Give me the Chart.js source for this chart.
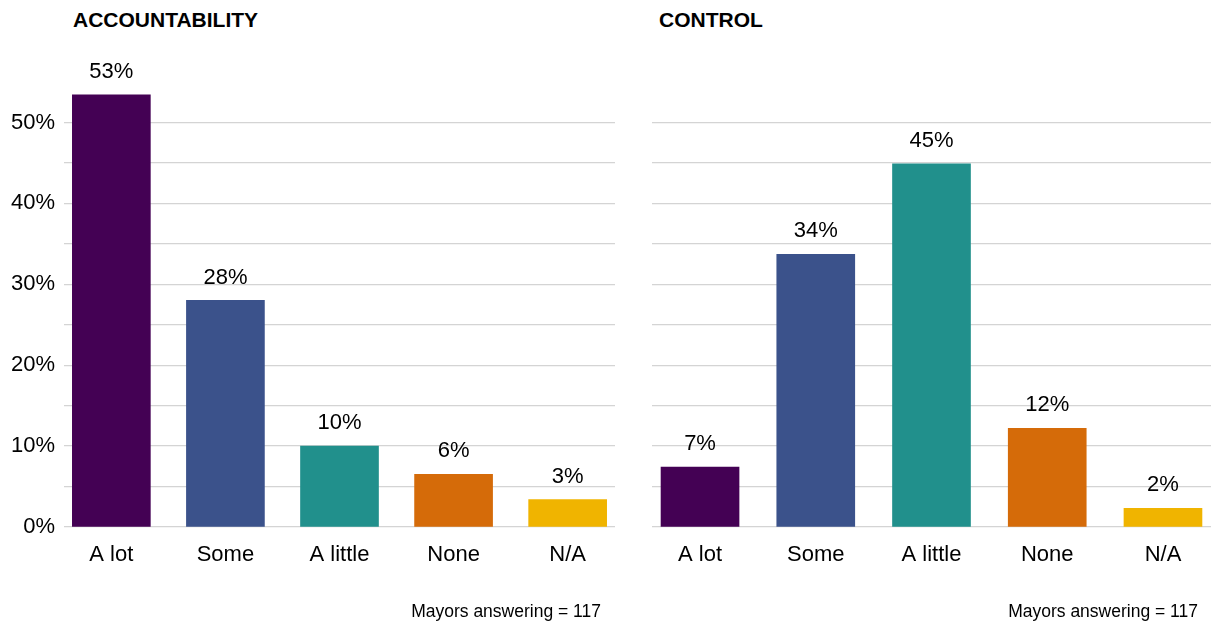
<!DOCTYPE html>
<html>
<head>
<meta charset="utf-8">
<script src="https://cdn.jsdelivr.net/npm/chart.js@4.4.0/dist/chart.umd.min.js"></script>
<style>
  html, body { margin: 0; padding: 0; background: #fff; }
  body { width: 1223px; height: 623px; position: relative; overflow: hidden;
         font-family: "Liberation Sans", Arial, sans-serif; color: #000; }
  .box { position: absolute; top: 0; height: 623px; }
  .title { position: absolute; top: 8px; font-weight: bold; font-size: 21px; line-height: 24px; }
  .note { position: absolute; top: 600px; font-size: 17.5px; line-height: 22px; text-align: right; }
</style>
</head>
<body>
<div class="title" style="left:73px;">ACCOUNTABILITY</div>
<div class="title" style="left:659px;">CONTROL</div>
<div class="box" style="left:0; width:625px;"><canvas id="c1"></canvas></div>
<div class="box" style="left:625px; width:598px;"><canvas id="c2"></canvas></div>
<div class="note" style="left:300px; width:301px;">Mayors answering = 117</div>
<div class="note" style="left:897px; width:301px;">Mayors answering = 117</div>
<script>
const categories = ["A lot", "Some", "A little", "None", "N/A"];
const barColors = ["#440154", "#3B528B", "#21908C", "#D56B09", "#F0B400"];
const accountabilityValues = [53.4, 28.0, 10.0, 6.5, 3.4];
const accountabilityLabels = ["53%", "28%", "10%", "6%", "3%"];
const controlValues = [7.4, 33.7, 44.9, 12.2, 2.3];
const controlLabels = ["7%", "34%", "45%", "12%", "2%"];
const yTickValues = [0, 10, 20, 30, 40, 50];
const yMax = 55;

const FONT = "'Liberation Sans', Arial, sans-serif";

const labelPlugin = {
  id: 'barLabels',
  afterDatasetsDraw(chart, args, opts) {
    const ctx = chart.ctx;
    const meta = chart.getDatasetMeta(0);
    ctx.save();
    ctx.font = "22px " + FONT;
    ctx.fillStyle = "#000";
    ctx.textAlign = "center";
    ctx.textBaseline = "middle";
    meta.data.forEach((el, i) => {
      ctx.fillText(opts.labels[i], el.x, el.y - 23);
    });
    ctx.restore();
  }
};

function makeChart(id, values, labels, showY, yWidth, padRight) {
  return new Chart(document.getElementById(id), {
    type: 'bar',
    data: {
      datasets: [{
        data: values.map((v, i) => ({ x: i, y: v })),
        backgroundColor: barColors,
        borderWidth: 0,
        barThickness: 78,
        clip: false
      }]
    },
    options: {
      responsive: true,
      maintainAspectRatio: false,
      animation: false,
      layout: { padding: { top: 82, left: 0, right: padRight, bottom: 0 } },
      plugins: {
        legend: { display: false },
        tooltip: { enabled: false },
        barLabels: { labels: labels }
      },
      scales: {
        x: {
          type: 'linear',
          offset: false,
          min: -0.415,
          max: 4.415,
          afterBuildTicks: (s) => { s.ticks = categories.map((_, i) => ({ value: i })); },
          afterFit: (s) => { s.height = 96; },
          grid: { display: false, drawTicks: false },
          border: { display: false },
          ticks: {
            autoSkip: false,
            maxRotation: 0,
            padding: 15,
            color: "#000",
            font: { family: FONT, size: 22 },
            callback: (v) => categories[v]
          }
        },
        y: {
          min: 0,
          max: yMax,
          afterFit: (s) => { s.width = yWidth; },
          afterBuildTicks: (s) => {
            const t = [];
            for (let v = 0; v <= yMax; v += 5) t.push({ value: v });
            s.ticks = t;
          },
          border: { display: false },
          grid: {
            drawTicks: false,
            lineWidth: 1.3,
            color: (c) => (c.tick && c.tick.value >= yMax) ? 'rgba(0,0,0,0)' : '#D4D4D4'
          },
          ticks: {
            display: showY,
            padding: 9,
            color: "#000",
            font: { family: FONT, size: 22 },
            callback: (v) => yTickValues.includes(v) ? v + "%" : ""
          }
        }
      }
    },
    plugins: [labelPlugin]
  });
}

makeChart('c1', accountabilityValues, accountabilityLabels, true, 64, 10);
makeChart('c2', controlValues, controlLabels, false, 27, 12);
</script>
</body>
</html>
